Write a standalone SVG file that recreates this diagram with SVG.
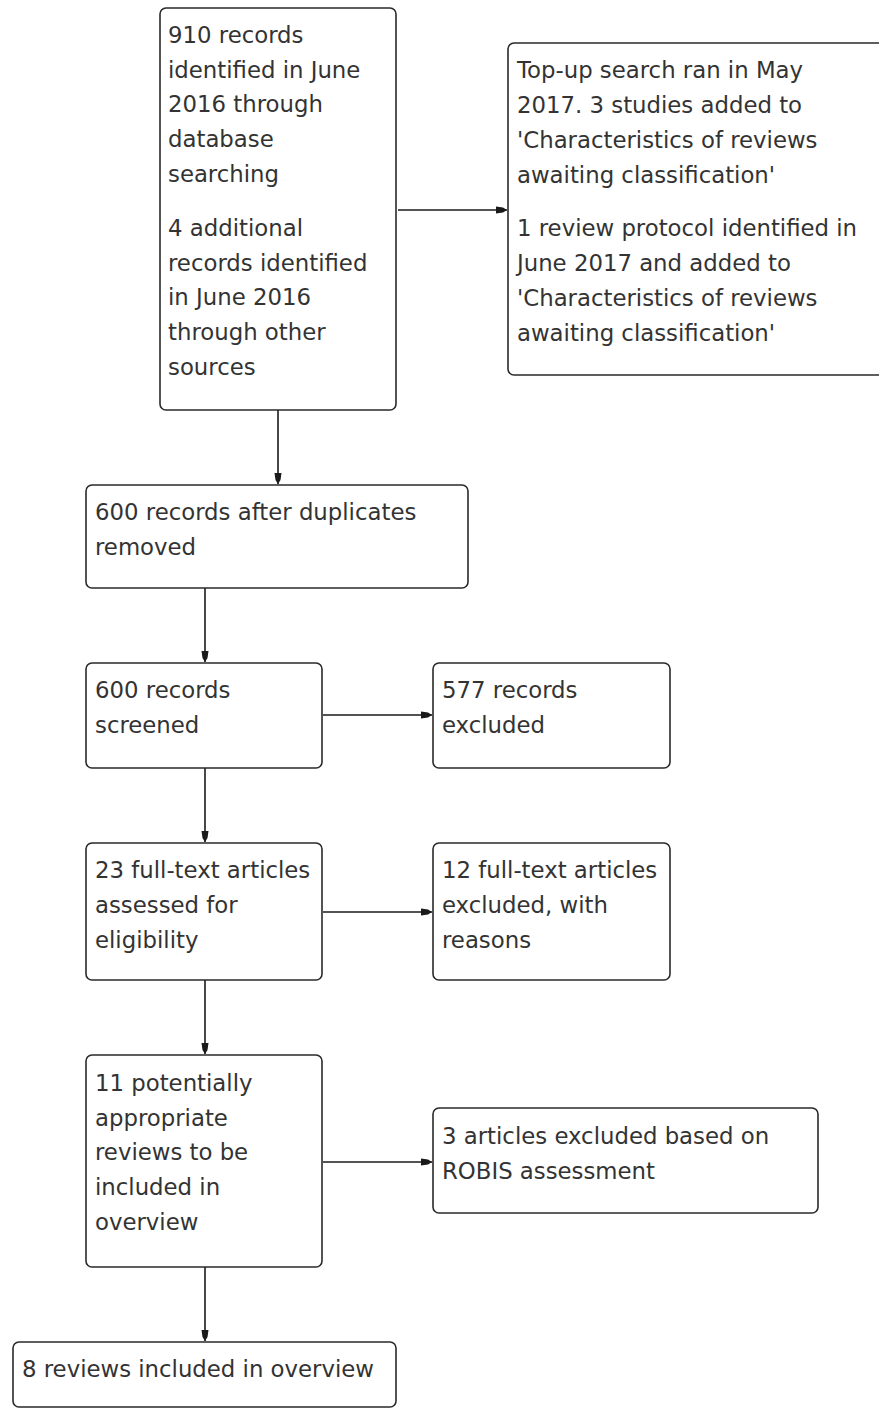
<svg xmlns="http://www.w3.org/2000/svg" width="879" height="1408" viewBox="0 0 879 1408">
<style>
.box{fill:#ffffff;stroke:#2a2a2a;stroke-width:1.6}
.t{font-family:"DejaVu Sans",Verdana,sans-serif;font-size:22.8px;fill:#333333}
.c{stroke:#1a1a1a;stroke-width:1.6;fill:none}
</style>
<defs>
<marker id="ah" markerUnits="userSpaceOnUse" markerWidth="12" markerHeight="10" refX="11" refY="5" orient="auto">
<path d="M0,1.5 L7,2.5 L11,5 L7,7.5 L0,8.5 z" fill="#1a1a1a"/>
</marker>
</defs>
<rect width="879" height="1408" fill="#ffffff"/>
<g id="connectors">
<line class="c" x1="398" y1="210" x2="507" y2="210" marker-end="url(#ah)"/>
<line class="c" x1="278" y1="410" x2="278" y2="484" marker-end="url(#ah)"/>
<line class="c" x1="205" y1="588" x2="205" y2="662" marker-end="url(#ah)"/>
<line class="c" x1="323" y1="715" x2="432" y2="715" marker-end="url(#ah)"/>
<line class="c" x1="205" y1="768" x2="205" y2="842" marker-end="url(#ah)"/>
<line class="c" x1="323" y1="912" x2="432" y2="912" marker-end="url(#ah)"/>
<line class="c" x1="205" y1="980" x2="205" y2="1054" marker-end="url(#ah)"/>
<line class="c" x1="323" y1="1162" x2="432" y2="1162" marker-end="url(#ah)"/>
<line class="c" x1="205" y1="1267" x2="205" y2="1341" marker-end="url(#ah)"/>
</g>
<g id="node-identified">
<rect class="box" x="160" y="8" width="236" height="402" rx="6"/>
<text class="t" x="168" y="43">910 records</text>
<text class="t" x="168" y="78">identified in June</text>
<text class="t" x="168" y="112">2016 through</text>
<text class="t" x="168" y="147">database</text>
<text class="t" x="168" y="182">searching</text>
<text class="t" x="168" y="236">4 additional</text>
<text class="t" x="168" y="271">records identified</text>
<text class="t" x="168" y="305">in June 2016</text>
<text class="t" x="168" y="340">through other</text>
<text class="t" x="168" y="375">sources</text>
</g>
<g id="node-topup">
<rect class="box" x="508" y="43" width="390" height="332" rx="6"/>
<text class="t" x="517" y="78">Top-up search ran in May</text>
<text class="t" x="517" y="113">2017. 3 studies added to</text>
<text class="t" x="517" y="148">'Characteristics of reviews</text>
<text class="t" x="517" y="183">awaiting classification'</text>
<text class="t" x="517" y="236">1 review protocol identified in</text>
<text class="t" x="517" y="271">June 2017 and added to</text>
<text class="t" x="517" y="306">'Characteristics of reviews</text>
<text class="t" x="517" y="341">awaiting classification'</text>
</g>
<g id="node-duplicates">
<rect class="box" x="86" y="485" width="382" height="103" rx="6"/>
<text class="t" x="95" y="520">600 records after duplicates</text>
<text class="t" x="95" y="555">removed</text>
</g>
<g id="node-screened">
<rect class="box" x="86" y="663" width="236" height="105" rx="6"/>
<text class="t" x="95" y="698">600 records</text>
<text class="t" x="95" y="733">screened</text>
</g>
<g id="node-excluded">
<rect class="box" x="433" y="663" width="237" height="105" rx="6"/>
<text class="t" x="442" y="698">577 records</text>
<text class="t" x="442" y="733">excluded</text>
</g>
<g id="node-fulltext">
<rect class="box" x="86" y="843" width="236" height="137" rx="6"/>
<text class="t" x="95" y="878">23 full-text articles</text>
<text class="t" x="95" y="913">assessed for</text>
<text class="t" x="95" y="948">eligibility</text>
</g>
<g id="node-fulltext-excluded">
<rect class="box" x="433" y="843" width="237" height="137" rx="6"/>
<text class="t" x="442" y="878">12 full-text articles</text>
<text class="t" x="442" y="913">excluded, with</text>
<text class="t" x="442" y="948">reasons</text>
</g>
<g id="node-potential">
<rect class="box" x="86" y="1055" width="236" height="212" rx="6"/>
<text class="t" x="95" y="1091">11 potentially</text>
<text class="t" x="95" y="1126">appropriate</text>
<text class="t" x="95" y="1160">reviews to be</text>
<text class="t" x="95" y="1195">included in</text>
<text class="t" x="95" y="1230">overview</text>
</g>
<g id="node-robis">
<rect class="box" x="433" y="1108" width="385" height="105" rx="6"/>
<text class="t" x="442" y="1144">3 articles excluded based on</text>
<text class="t" x="442" y="1179">ROBIS assessment</text>
</g>
<g id="node-included">
<rect class="box" x="13" y="1342" width="383" height="65" rx="6"/>
<text class="t" x="22" y="1377">8 reviews included in overview</text>
</g>
</svg>
